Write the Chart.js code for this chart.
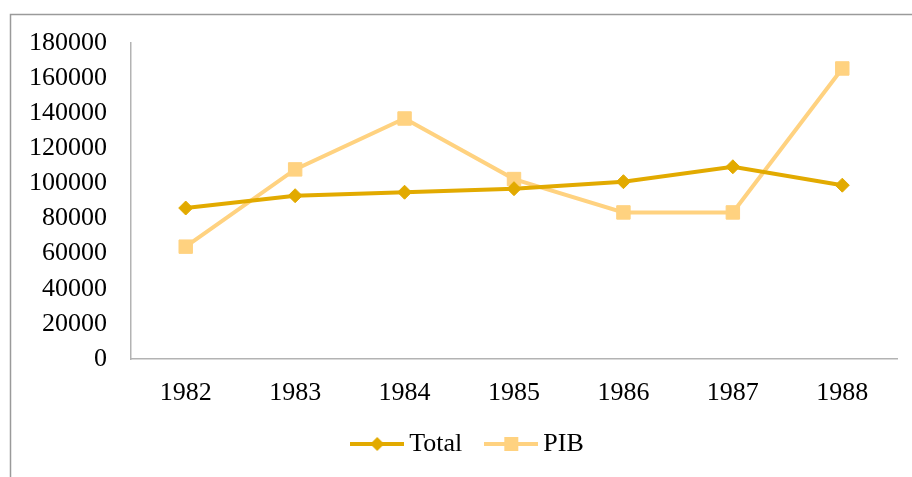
<!DOCTYPE html>
<html>
<head>
<meta charset="utf-8">
<script src="https://cdn.jsdelivr.net/npm/chart.js@4"></script>
<style>
  body { margin: 0; background: #fff; }
  canvas { display: block; }
</style>
</head>
<body>
<canvas id="lineChart" width="912" height="477"></canvas>
<script>
// Data
const years = ['1982', '1983', '1984', '1985', '1986', '1987', '1988'];
const totalValues = [86000, 93000, 95000, 97000, 101000, 109500, 99000];
const pibValues = [64000, 108000, 137000, 102500, 83500, 83500, 165500];
const yTicks = [0, 20000, 40000, 60000, 80000, 100000, 120000, 140000, 160000, 180000];

const totalColor = '#E2AA00';
const pibColor = '#FFD280';
const fontFamily = "'Liberation Serif', 'Times New Roman', serif";

// Legend icon: short line with the marker in the middle
function legendIcon(color, style) {
    const c = document.createElement('canvas');
    c.width = 54;
    c.height = 20;
    const g = c.getContext('2d');
    g.strokeStyle = color;
    g.fillStyle = color;
    g.lineWidth = 4;
    g.beginPath();
    g.moveTo(0, 10);
    g.lineTo(54, 10);
    g.stroke();
    g.beginPath();
    if (style === 'diamond') {
        g.moveTo(27, 3); g.lineTo(34, 10); g.lineTo(27, 17); g.lineTo(20, 10);
    } else {
        g.rect(20, 3, 14, 14);
    }
    g.closePath();
    g.fill();
    return c;
}
const icons = [legendIcon(totalColor, 'diamond'), legendIcon(pibColor, 'square')];

// Outer frame of the chart object (cut off right and bottom)
const framePlugin = {
    id: 'frame',
    afterLayout(chart) {
        // legend is centred on the whole frame, not the plot
        chart.legend.left += 20;
        chart.legend.right += 20;
    },
    beforeDraw(chart) {
        const ctx = chart.ctx;
        ctx.save();
        ctx.strokeStyle = '#9a9a9a';
        ctx.lineWidth = 1.5;
        ctx.beginPath();
        ctx.moveTo(10.5, chart.height + 5);
        ctx.lineTo(10.5, 14.5);
        ctx.lineTo(chart.width + 5, 14.5);
        ctx.stroke();
        ctx.restore();
    }
};

const ctxLine = document.getElementById('lineChart').getContext('2d');

const lineChart = new Chart(ctxLine, {
    type: 'line',
    data: {
        labels: years,
        datasets: [
            {
                label: 'Total',
                data: totalValues,
                borderColor: totalColor,
                backgroundColor: totalColor,
                borderWidth: 4,
                pointStyle: 'rectRot',
                pointRadius: 7,
                pointBorderWidth: 1,
                fill: false,
                tension: 0
            },
            {
                label: 'PIB',
                data: pibValues,
                borderColor: pibColor,
                backgroundColor: pibColor,
                borderWidth: 4,
                pointStyle: 'rect',
                pointRadius: 9.5,
                pointBorderWidth: 1,
                fill: false,
                tension: 0
            }
        ]
    },
    options: {
        responsive: false,
        animation: false,
        layout: { padding: { top: 43, left: 5, right: 15, bottom: 10 } },
        plugins: {
            tooltip: { enabled: false },
            legend: {
                position: 'bottom',
                labels: {
                    usePointStyle: true,
                    pointStyleWidth: 38,
                    boxHeight: 20,
                    padding: 30,
                    color: '#000',
                    font: { family: fontFamily, size: 26 },
                    generateLabels(chart) {
                        return chart.data.datasets.map((ds, i) => ({
                            text: ds.label,
                            pointStyle: icons[i],
                            fillStyle: ds.borderColor,
                            strokeStyle: ds.borderColor,
                            lineWidth: 0,
                            hidden: false,
                            datasetIndex: i,
                            fontColor: '#000'
                        }));
                    }
                }
            }
        },
        scales: {
            x: {
                offset: true,
                grid: { display: false, drawTicks: false },
                border: { display: true, color: '#b3b3b3', width: 1.5 },
                afterFit(scale) { scale.height = 42; },
                ticks: { color: '#000', padding: 19, font: { family: fontFamily, size: 26 } }
            },
            y: {
                min: 0,
                max: 180000,
                grid: { display: false, drawTicks: false },
                border: { display: true, color: '#b3b3b3', width: 1.5 },
                afterBuildTicks(scale) {
                    scale.ticks = yTicks.map(v => ({ value: v }));
                },
                ticks: {
                    color: '#000',
                    padding: 24,
                    autoSkip: false,
                    font: { family: fontFamily, size: 26 },
                    callback: v => String(v)
                }
            }
        }
    },
    plugins: [framePlugin]
});
</script>
</body>
</html>
